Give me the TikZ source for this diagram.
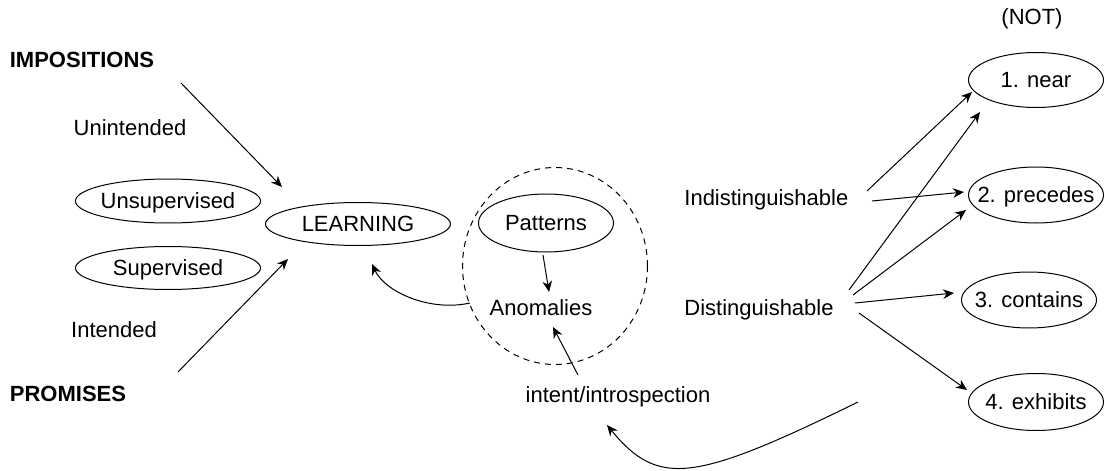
\documentclass[tikz,border=0pt]{standalone}
\usepackage{fontspec}
\setmainfont{Liberation Sans}
\usetikzlibrary{shapes.geometric,arrows.meta}
\newcommand\zw[1]{\makebox[0pt]{\raisebox{-0.358em}[0pt][0pt]{#1}}}
\tikzset{
  base/.style={font=\fontsize{11}{13}\selectfont, inner sep=0pt},
  lbl/.style={base},
  oval/.style={base, draw, ellipse, line width=0.5pt},
  conn/.style={line width=0.5pt, -{Stealth[length=5.5pt,width=4.8pt,inset=1.8pt]}},
  zone/.style={draw, ellipse, line width=0.5pt, dash pattern=on 3pt off 2.5pt, inner sep=0pt}
}
\begin{document}
\begin{tikzpicture}[x=0.5pt,y=-0.5pt]
\useasboundingbox (0,0) rectangle (1105,471);
% left side
\node[lbl] (imp) at (82,60) {\zw{\bfseries IMPOSITIONS}};
\node[lbl] (unint) at (130,128) {\zw{Unintended}};
\node[oval, minimum width=92.5pt, minimum height=22pt] (unsup) at (168,201) {\zw{Unsupervised}};
\node[oval, minimum width=92.5pt, minimum height=21.5pt] (sup) at (168,268) {\zw{Supervised}};
\node[oval, minimum width=92.5pt, minimum height=21.5pt] (learn) at (358,224) {\zw{LEARNING}};
\node[lbl] (int) at (114,330) {\zw{Intended}};
\node[lbl] (prom) at (68,394) {\zw{\bfseries PROMISES}};
% middle
\node[zone, minimum width=92.5pt, minimum height=98.5pt] (zoneA) at (555,266) {};
\node[oval, minimum width=67.5pt, minimum height=29pt] (pat) at (546,223) {\zw{Patterns}};
\node[lbl] (anom) at (541,308) {\zw{Anomalies}};
\node[lbl] (intro) at (618,395) {\zw{intent/introspection}};
% right side
\node[lbl, anchor=west] (indist) at (684,198) {\raisebox{-0.358em}[0pt][0pt]{Indistinguishable}};
\node[lbl, anchor=west] (dist) at (684,308) {\raisebox{-0.358em}[0pt][0pt]{Distinguishable}};
\node[lbl] (not) at (1032,17) {\zw{(NOT)}};
\node[oval, minimum width=67.5pt, minimum height=27.5pt] (near) at (1036,80) {\zw{1. near}};
\node[oval, minimum width=67.5pt, minimum height=28pt] (prec) at (1036,195) {\zw{2. precedes}};
\node[oval, minimum width=67.5pt, minimum height=28pt] (cont) at (1029,300) {\zw{3. contains}};
\node[oval, minimum width=67.5pt, minimum height=28.5pt] (exh) at (1036,402) {\zw{4. exhibits}};
% connector end points
\coordinate (impS) at (181,83);
\coordinate (impE) at (282,187);
\coordinate (promS) at (178,372);
\coordinate (promE) at (288,259);
\coordinate (zoneS) at (470,303);
\coordinate (learnE) at (372,264);
\coordinate (patS) at (543,255);
\coordinate (anomE) at (549,292);
\coordinate (introS) at (578,375);
\coordinate (anomE2) at (553,327);
\coordinate (exhS) at (858,402);
\coordinate (introE) at (607,425);
\coordinate (indS1) at (867,191);
\coordinate (nearE1) at (972,92);
\coordinate (indS2) at (872,201);
\coordinate (precE1) at (964,192);
\coordinate (distS1) at (849,290);
\coordinate (nearE2) at (980,112);
\coordinate (distS2) at (853,295);
\coordinate (precE2) at (966,210);
\coordinate (distS3) at (855,303);
\coordinate (contE) at (954,293);
\coordinate (distS4) at (859,313);
\coordinate (exhE) at (967,390);
% connectors
\draw[conn] (impS) -- (impE);
\draw[conn] (promS) -- (promE);
\draw[conn] (zoneS) .. controls (430,312) and (385,292) .. (learnE);
\draw[conn] (patS) -- (anomE);
\draw[conn] (introS) -- (anomE2);
\draw[conn] (exhS) .. controls (693,483) and (658,487) .. (introE);
\draw[conn] (indS1) -- (nearE1);
\draw[conn] (indS2) -- (precE1);
\draw[conn] (distS1) -- (nearE2);
\draw[conn] (distS2) -- (precE2);
\draw[conn] (distS3) -- (contE);
\draw[conn] (distS4) -- (exhE);
\end{tikzpicture}
\end{document}
